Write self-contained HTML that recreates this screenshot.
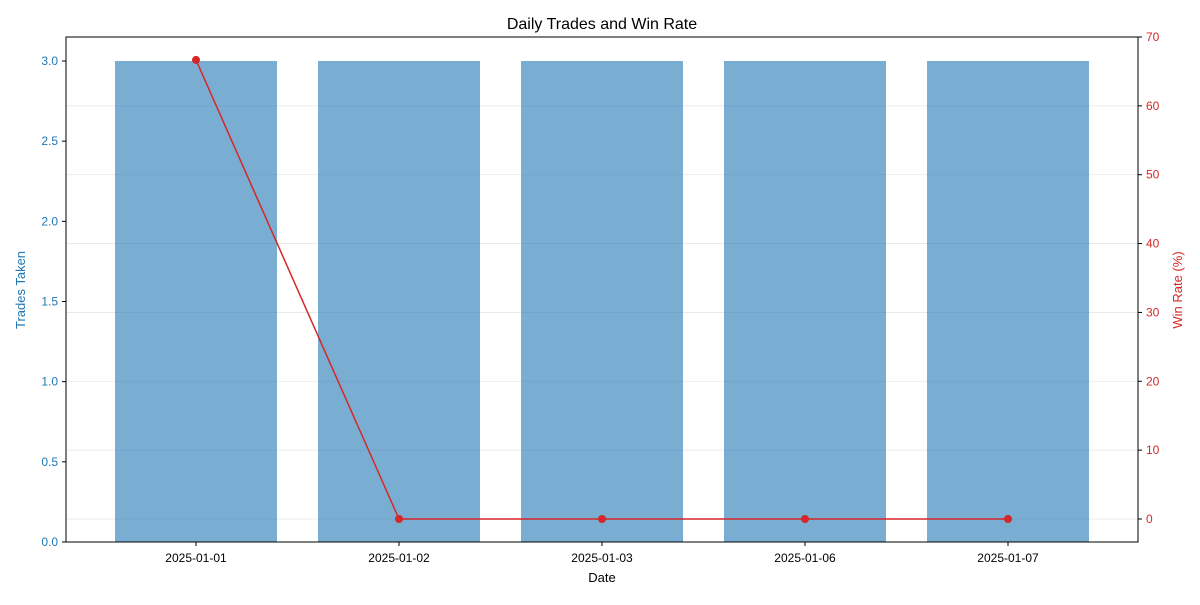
<!DOCTYPE html>
<html><head><meta charset="utf-8"><style>
body{margin:0;background:#fff;}
svg{font-family:"Liberation Sans","DejaVu Sans",sans-serif;}
</style></head><body>
<svg id="chart" width="1200" height="600"></svg>
<script>
const categories=["2025-01-01","2025-01-02","2025-01-03","2025-01-06","2025-01-07"];
const tradesTaken=[3,3,3,3,3];
const winRate=[66.67,0,0,0,0];
const leftTicks=[0,0.5,1,1.5,2,2.5,3];
const rightTicks=[0,10,20,30,40,50,60,70];

const svg=document.getElementById('chart');
const NS='http://www.w3.org/2000/svg';
const L=66,R=1138,T=37,B=542;
const xs=i=>196+i*203;
const yL=v=>542-v*(481/3);
const yR=v=>519-v*(482/70);
function el(tag,attrs,parent){const e=document.createElementNS(NS,tag);for(const k in attrs)e.setAttribute(k,attrs[k]);(parent||svg).appendChild(e);return e;}
function txt(s,attrs){const e=el('text',attrs);e.textContent=s;return e;}

// grid
rightTicks.forEach(t=>{const g=el('line',{x1:L,x2:R,y1:yR(t),y2:yR(t),stroke:'#e6e6e6','stroke-width':0.8});

});
// bars
tradesTaken.forEach((v,i)=>{const b=el('rect',{x:xs(i)-81,y:yL(v),width:162,height:yL(0)-yL(v),fill:'#1f77b4','fill-opacity':0.6});

});
// line
const pl=el('polyline',{points:winRate.map((v,i)=>xs(i)+','+yR(v)).join(' '),fill:'none',stroke:'#d62728','stroke-width':1.5});


winRate.forEach((v,i)=>{const c=el('circle',{cx:xs(i),cy:yR(v),r:4,fill:'#d62728'});

});
// frame
const fr=el('rect',{x:L,y:T,width:R-L,height:B-T,fill:'none',stroke:'#000','stroke-width':1});


// left ticks
leftTicks.forEach(t=>{el('line',{x1:L-4,x2:L,y1:yL(t),y2:yL(t),stroke:'#000'});
const tx=txt(t.toFixed(1),{x:L-8,y:yL(t)+4,'text-anchor':'end','font-size':12,fill:'#1f77b4'});

});
// right ticks
rightTicks.forEach(t=>{el('line',{x1:R,x2:R+4,y1:yR(t),y2:yR(t),stroke:'#000'});
const tx=txt(String(t),{x:R+8,y:yR(t)+4,'font-size':12,fill:'#d62728'});

});
// x ticks
categories.forEach((c,i)=>{el('line',{x1:xs(i),x2:xs(i),y1:B,y2:B+4,stroke:'#000'});
const tx=txt(c,{x:xs(i),y:B+20,'text-anchor':'middle','font-size':12,fill:'#000'});

});
// titles
const t1=txt('Daily Trades and Win Rate',{x:(L+R)/2,y:29,'text-anchor':'middle','font-size':16});


const t2=txt('Date',{x:(L+R)/2,y:582,'text-anchor':'middle','font-size':13});


const t3=txt('Trades Taken',{x:0,y:0,'text-anchor':'middle','font-size':13,fill:'#1f77b4',transform:'translate(25,290) rotate(-90)'});


const t4=txt('Win Rate (%)',{x:0,y:0,'text-anchor':'middle','font-size':13,fill:'#d62728',transform:'translate(1182,290) rotate(-90)'});


</script>
</body></html>
